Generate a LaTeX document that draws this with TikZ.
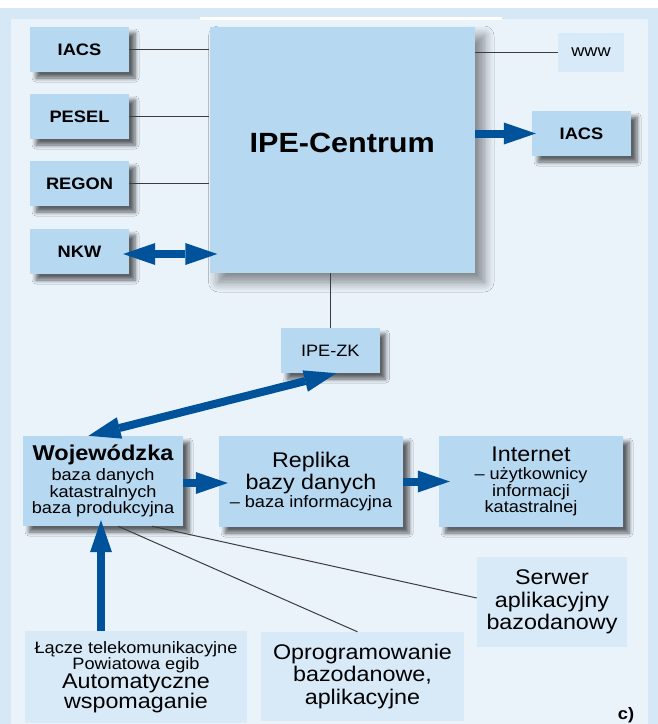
\documentclass[tikz,border=0pt]{standalone}
\usepackage{fontspec}
\setmainfont{Liberation Sans}[FakeStretch=1.1]
\usetikzlibrary{arrows.meta,shadows.blur}
\definecolor{outerbg}{HTML}{D6E8F6}
\definecolor{innerbg}{HTML}{EAF2FA}
\definecolor{boxblue}{HTML}{B7D8F1}
\definecolor{paleblue}{HTML}{D8E9F7}
\definecolor{arrowblue}{HTML}{00529B}
\definecolor{wiregray}{HTML}{3C3C3C}
\newcommand\bigtxt{\fontsize{21.2}{22}\selectfont}
\lineskiplimit=-100pt
\tikzset{
  box/.style={fill=boxblue, inner sep=0pt, align=center, font=\fontsize{16.5}{16.7}\selectfont},
  softshadow/.style={blur shadow={shadow xshift=6pt, shadow yshift=-6pt, shadow blur radius=4pt, shadow blur steps=6, shadow opacity=60}},
  bigshadow/.style={blur shadow={shadow xshift=9pt, shadow yshift=-9pt, shadow blur radius=10pt, shadow blur steps=8, shadow opacity=45}},
  tag/.style={box, softshadow, font=\bfseries\fontsize{16.6}{16.7}\selectfont, minimum width=99pt, minimum height=45pt},
  pale/.style={fill=paleblue, inner sep=0pt, align=center, font=\fontsize{16.5}{16.7}\selectfont},
  wire/.style={draw=wiregray, line width=1pt},
  fat/.style={draw=arrowblue, line width=8pt, -{Triangle[length=32pt,width=22pt,line width=0pt]}},
  fatboth/.style={draw=arrowblue, line width=8pt, {Triangle[length=32pt,width=22pt,line width=0pt]}-{Triangle[length=32pt,width=22pt,line width=0pt]}}
}
\begin{document}
\begin{tikzpicture}[x=1pt,y=-1pt]
    % background panels
    \fill[white] (0,0) rectangle (658,724);
    \fill[outerbg] (0,8) rectangle (658,724);
    \fill[innerbg] (11,19) rectangle (648,724);
    \fill[white] (200,16.5) rectangle (502,19.5);
    \useasboundingbox (0,0) rectangle (658,724);

    % upper part
    \node (iacsL) at (79.5,49.5) [tag] {IACS};
    \node (pesel) at (79.5,116.5) [tag] {PESEL};
    \node (regon) at (79.5,183.5) [tag] {REGON};
    \node (nkw) at (79.5,251.5) [tag] {NKW};
    \node (centrum) at (342.25,150) [box, bigshadow, minimum width=265.5pt, minimum height=246pt, text depth=14pt, font=\bfseries\fontsize{27.8}{30}\selectfont] {IPE-Centrum};
    \node (www) at (591,52.5) [pale, minimum width=66pt, minimum height=39pt] {www};
    \node (iacsR) at (581.5,133.5) [tag] {IACS};
    \node (ipezk) at (330.25,350.5) [box, softshadow, minimum width=98.5pt, minimum height=45pt] {IPE-ZK};

    \draw[wire] (iacsL.east) -- (iacsL.east -| centrum.west);
    \draw[wire] (pesel.east) -- (pesel.east -| centrum.west);
    \draw[wire] (regon.east) -- (regon.east -| centrum.west);
    \draw[wire] (centrum.east |- www.west) -- (www.west);
    \draw[wire] (ipezk.north) -- (ipezk.north |- centrum.south);
    \draw[fat] (centrum.east |- iacsR.west) -- ([xshift=4pt]iacsR.west);
    \draw[fatboth] ([shift={(-6,2.5)}]nkw.east) -- ([shift={(8,2.5)}]nkw.east -| centrum.west);

    % lower part
    \node (woj) at (103,481) [box, softshadow, minimum width=160pt, minimum height=90pt] {{\bfseries\fontsize{21.4}{22}\selectfont Wojewódzka}\\[3.3pt]baza danych\\katastralnych\\baza produkcyjna};
    \node (replika) at (311,481.5) [box, softshadow, minimum width=184pt, minimum height=91pt] {{\bigtxt Replika}\\[5pt]{\bigtxt bazy danych}\\[1.6pt]– baza informacyjna};
    \node (internet) at (531,481.5) [box, softshadow, minimum width=184pt, minimum height=91pt] {{\bigtxt Internet}\\[1.6pt]– użytkownicy\\informacji\\katastralnej};
    \node (serwer) at (552,602) [pale, minimum width=150pt, minimum height=90pt] {{\bigtxt Serwer}\\[5.8pt]{\bigtxt aplikacyjny}\\[5.8pt]{\bigtxt bazodanowy}};
    \node (lacze) at (136,677) [pale, minimum width=222pt, minimum height=92pt] {Łącze telekomunikacyjne\\[-0.8pt]Powiatowa egib\\[2.6pt]{\bigtxt Automatyczne}\\[3.4pt]{\bigtxt wspomaganie}};
    \node (oprog) at (362.5,676.5) [pale, minimum width=203pt, minimum height=89pt] {{\bigtxt Oprogramowanie}\\[5.8pt]{\bigtxt bazodanowe,}\\[5.8pt]{\bigtxt aplikacyjne}};
    \node (panel) at (626,707) [anchor=north, inner sep=0pt, font=\bfseries\fontsize{16.6}{16.7}\selectfont] {c)};

    \draw[fatboth] ([xshift=6pt]ipezk.south) -- ([xshift=-14.5pt]woj.north);
    \draw[fat] ([yshift=-2pt]woj.east) -- ([shift={(9,2)}]woj.east -| replika.west);
    \draw[fat] (replika.east) -- ([xshift=11pt]internet.west);
    \draw[fat] ([xshift=-35pt]lacze.north) -- ([xshift=-35pt,yshift=6pt]lacze.north |- woj.south);
    \draw[wire] ([xshift=15pt]woj.south) -- ([xshift=-5pt]oprog.north);
    \draw[wire] ([xshift=49pt]woj.south) -- ([yshift=4pt]serwer.west);
\end{tikzpicture}
\end{document}
